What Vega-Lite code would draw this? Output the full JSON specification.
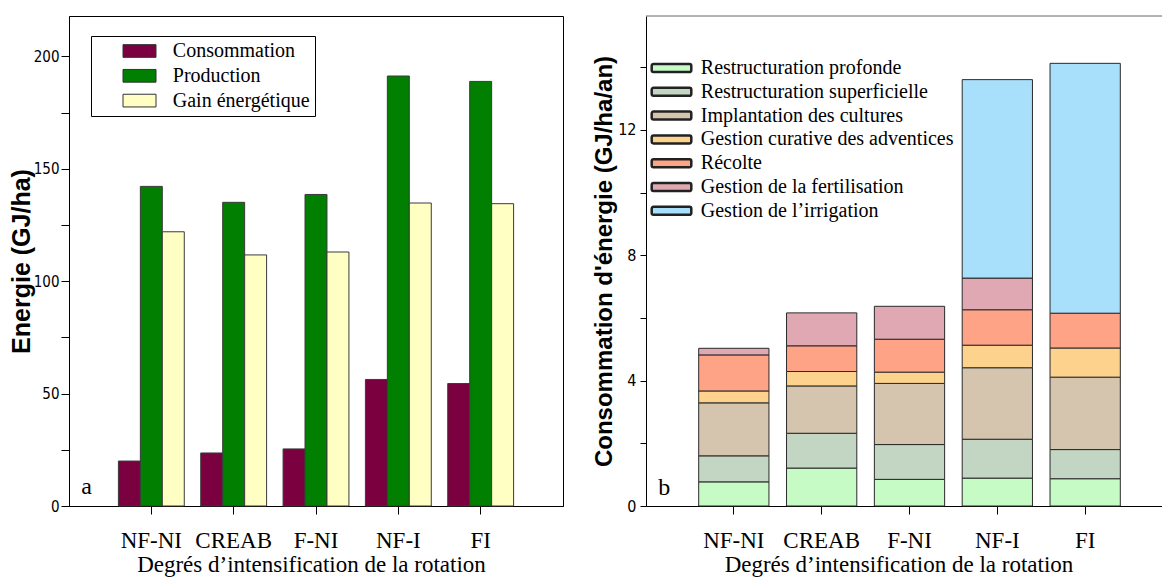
{
  "$schema": "https://vega.github.io/schema/vega-lite/v6.json",
  "padding": {"left": 8, "top": 15, "right": 0, "bottom": 0},
  "spacing": 27,
  "background": "#ffffff",
  "resolve": {"scale": {"color": "independent"}, "legend": {"color": "independent"}},
  "config": {
    "view": {"stroke": "#000000", "strokeWidth": 1},
    "axis": {"grid": false, "domainColor": "#000000", "tickColor": "#000000", "labelColor": "#000000", "titleColor": "#000000", "domainWidth": 1, "tickWidth": 1},
    "axisX": {"labelFont": "Liberation Serif", "labelFontSize": 23, "labelAngle": 0, "tickSize": 8, "labelPadding": 15, "titleFont": "Liberation Serif", "titleFontSize": 23, "titleFontWeight": "normal", "titlePadding": 1},
    "axisY": {"labelFont": "DejaVu Sans Condensed", "titleFont": "Liberation Sans", "titleFontWeight": "bold"},
    "legend": {"title": null, "labelFont": "Liberation Serif", "labelFontSize": 20, "labelColor": "#000000", "orient": "none", "labelLimit": 400}
  },
  "datasets": {
    "energie": [
      {"rotation": "NF-NI", "serie": "Consommation", "valeur": 20.0},
      {"rotation": "NF-NI", "serie": "Production", "valeur": 142.2},
      {"rotation": "NF-NI", "serie": "Gain énergétique", "valeur": 122.0},
      {"rotation": "CREAB", "serie": "Consommation", "valeur": 23.6},
      {"rotation": "CREAB", "serie": "Production", "valeur": 135.1},
      {"rotation": "CREAB", "serie": "Gain énergétique", "valeur": 111.7},
      {"rotation": "F-NI", "serie": "Consommation", "valeur": 25.4},
      {"rotation": "F-NI", "serie": "Production", "valeur": 138.6},
      {"rotation": "F-NI", "serie": "Gain énergétique", "valeur": 113.0},
      {"rotation": "NF-I", "serie": "Consommation", "valeur": 56.3},
      {"rotation": "NF-I", "serie": "Production", "valeur": 191.3},
      {"rotation": "NF-I", "serie": "Gain énergétique", "valeur": 134.8},
      {"rotation": "FI", "serie": "Consommation", "valeur": 54.5},
      {"rotation": "FI", "serie": "Production", "valeur": 188.9},
      {"rotation": "FI", "serie": "Gain énergétique", "valeur": 134.5}
    ],
    "postes": [
      {"rotation": "NF-NI", "poste": "Restructuration profonde", "ordre": 1, "valeur": 0.77},
      {"rotation": "NF-NI", "poste": "Restructuration superficielle", "ordre": 2, "valeur": 0.83},
      {"rotation": "NF-NI", "poste": "Implantation des cultures", "ordre": 3, "valeur": 1.69},
      {"rotation": "NF-NI", "poste": "Gestion curative des adventices", "ordre": 4, "valeur": 0.38},
      {"rotation": "NF-NI", "poste": "Récolte", "ordre": 5, "valeur": 1.15},
      {"rotation": "NF-NI", "poste": "Gestion de la fertilisation", "ordre": 6, "valeur": 0.21},
      {"rotation": "CREAB", "poste": "Restructuration profonde", "ordre": 1, "valeur": 1.21},
      {"rotation": "CREAB", "poste": "Restructuration superficielle", "ordre": 2, "valeur": 1.11},
      {"rotation": "CREAB", "poste": "Implantation des cultures", "ordre": 3, "valeur": 1.51},
      {"rotation": "CREAB", "poste": "Gestion curative des adventices", "ordre": 4, "valeur": 0.46},
      {"rotation": "CREAB", "poste": "Récolte", "ordre": 5, "valeur": 0.82},
      {"rotation": "CREAB", "poste": "Gestion de la fertilisation", "ordre": 6, "valeur": 1.05},
      {"rotation": "F-NI", "poste": "Restructuration profonde", "ordre": 1, "valeur": 0.85},
      {"rotation": "F-NI", "poste": "Restructuration superficielle", "ordre": 2, "valeur": 1.11},
      {"rotation": "F-NI", "poste": "Implantation des cultures", "ordre": 3, "valeur": 1.95},
      {"rotation": "F-NI", "poste": "Gestion curative des adventices", "ordre": 4, "valeur": 0.36},
      {"rotation": "F-NI", "poste": "Récolte", "ordre": 5, "valeur": 1.05},
      {"rotation": "F-NI", "poste": "Gestion de la fertilisation", "ordre": 6, "valeur": 1.05},
      {"rotation": "NF-I", "poste": "Restructuration profonde", "ordre": 1, "valeur": 0.89},
      {"rotation": "NF-I", "poste": "Restructuration superficielle", "ordre": 2, "valeur": 1.24},
      {"rotation": "NF-I", "poste": "Implantation des cultures", "ordre": 3, "valeur": 2.28},
      {"rotation": "NF-I", "poste": "Gestion curative des adventices", "ordre": 4, "valeur": 0.72},
      {"rotation": "NF-I", "poste": "Récolte", "ordre": 5, "valeur": 1.13},
      {"rotation": "NF-I", "poste": "Gestion de la fertilisation", "ordre": 6, "valeur": 1.01},
      {"rotation": "NF-I", "poste": "Gestion de l’irrigation", "ordre": 7, "valeur": 6.33},
      {"rotation": "FI", "poste": "Restructuration profonde", "ordre": 1, "valeur": 0.87},
      {"rotation": "FI", "poste": "Restructuration superficielle", "ordre": 2, "valeur": 0.93},
      {"rotation": "FI", "poste": "Implantation des cultures", "ordre": 3, "valeur": 2.31},
      {"rotation": "FI", "poste": "Gestion curative des adventices", "ordre": 4, "valeur": 0.93},
      {"rotation": "FI", "poste": "Récolte", "ordre": 5, "valeur": 1.11},
      {"rotation": "FI", "poste": "Gestion de l’irrigation", "ordre": 7, "valeur": 7.97}
    ]
  },
  "hconcat": [
    {
      "width": 494,
      "height": 490,
      "layer": [
        {
          "data": {"name": "energie"},
          "mark": {"type": "bar", "stroke": "#3a3a3a", "strokeWidth": 1},
          "encoding": {
            "x": {
              "field": "rotation", "type": "nominal",
              "sort": ["NF-NI", "CREAB", "F-NI", "NF-I", "FI"],
              "scale": {"paddingInner": 0.2, "paddingOuter": 0.6},
              "axis": {"title": "Degrés d’intensification  de la rotation", "titleX": 242}
            },
            "xOffset": {
              "field": "serie", "type": "nominal",
              "sort": ["Consommation", "Production", "Gain énergétique"],
              "scale": {"paddingInner": 0, "paddingOuter": 0}
            },
            "y": {
              "field": "valeur", "type": "quantitative",
              "scale": {"domain": [0, 218], "nice": false, "zero": true},
              "axis": {
                "title": "Energie (GJ/ha)",
                "values": [0, 25, 50, 75, 100, 125, 150, 175, 200],
                "labelExpr": "datum.value % 50 === 0 ? datum.label : ''",
                "tickSize": 8, "labelPadding": 2, "labelFontSize": 15,
                "titleFontSize": 25, "titlePadding": 2, "titleX": -35
              }
            },
            "color": {
              "field": "serie", "type": "nominal",
              "scale": {"domain": ["Consommation", "Production", "Gain énergétique"], "range": ["#7b003f", "#007f00", "#ffffc4"]},
              "legend": {
                "legendX": 22, "legendY": 20, "padding": 5,
                "strokeColor": "#000000", "fillColor": "#ffffff",
                "symbolType": "M-2.75,-1.06H2.75V1.06H-2.75Z", "symbolSize": 144,
                "symbolStrokeColor": "#333333", "symbolStrokeWidth": 1,
                "symbolOffset": 33.5, "labelOffset": 23.3, "rowPadding": 4.8
              }
            }
          }
        },
        {
          "data": {"values": [{"lettre": "a"}]},
          "mark": {"type": "text", "font": "Liberation Serif", "fontSize": 24, "dx": -64.8, "baseline": "alphabetic", "align": "center", "color": "#000000"},
          "encoding": {
            "x": {"datum": "NF-NI"},
            "y": {"datum": 5.3},
            "text": {"field": "lettre"}
          }
        }
      ]
    },
    {
      "width": 519,
      "height": 490,
      "view": {"stroke": null},
      "layer": [
        {
          "data": {"name": "postes"},
          "mark": {"type": "bar", "stroke": "#2a2a2a", "strokeWidth": 1},
          "encoding": {
            "x": {
              "field": "rotation", "type": "nominal",
              "sort": ["NF-NI", "CREAB", "F-NI", "NF-I", "FI"],
              "scale": {"paddingInner": 0.2, "paddingOuter": 0.6, "range": [0, 527]},
              "axis": {"title": "Degrés d’intensification  de la rotation", "titleX": 252.5}
            },
            "y": {
              "field": "valeur", "type": "quantitative", "stack": "zero",
              "scale": {"domain": [0, 15.63], "nice": false, "zero": true},
              "axis": {
                "title": "Consommation d'énergie (GJ/ha/an)",
                "values": [0, 2, 4, 6, 8, 10, 12, 14],
                "labelExpr": "datum.value % 4 === 0 ? datum.label : ''",
                "tickSize": 6, "labelPadding": 4, "labelFontSize": 16,
                "titleFontSize": 24, "titlePadding": 2, "titleX": -30
              }
            },
            "order": {"field": "ordre", "sort": "ascending"},
            "color": {
              "field": "poste", "type": "nominal",
              "scale": {
                "domain": ["Restructuration profonde", "Restructuration superficielle", "Implantation des cultures", "Gestion curative des adventices", "Récolte", "Gestion de la fertilisation", "Gestion de l’irrigation"],
                "range": ["#c6fbc6", "#c3d6c3", "#d5c4ae", "#fdd28c", "#ffa387", "#e0a8b2", "#a8e0fc"]
              },
              "legend": {
                "legendX": 2, "legendY": 42, "padding": 0,
                "symbolType": "M-3,-0.67H3A0.3,0.3 0 0 1 3.3,-0.37V0.37A0.3,0.3 0 0 1 3,0.67H-3A0.3,0.3 0 0 1 -3.3,0.37V-0.37A0.3,0.3 0 0 1 -3,-0.67Z",
                "symbolSize": 144,
                "symbolStrokeColor": "#222222", "symbolStrokeWidth": 2.5,
                "symbolOffset": 13.5, "labelOffset": 19.3, "rowPadding": 3.8
              }
            }
          }
        },
        {
          "data": {"values": [{"lettre": "b"}]},
          "mark": {"type": "text", "font": "Liberation Serif", "fontSize": 24, "dx": -69.5, "baseline": "alphabetic", "align": "center", "color": "#000000"},
          "encoding": {
            "x": {"datum": "NF-NI"},
            "y": {"datum": 0.35},
            "text": {"field": "lettre"}
          }
        },
        {
          "data": {"values": [{"bord": 15.63}]},
          "mark": {"type": "rule", "color": "#666666", "strokeWidth": 1},
          "encoding": {"y": {"field": "bord", "type": "quantitative"}}
        }
      ]
    }
  ]
}
